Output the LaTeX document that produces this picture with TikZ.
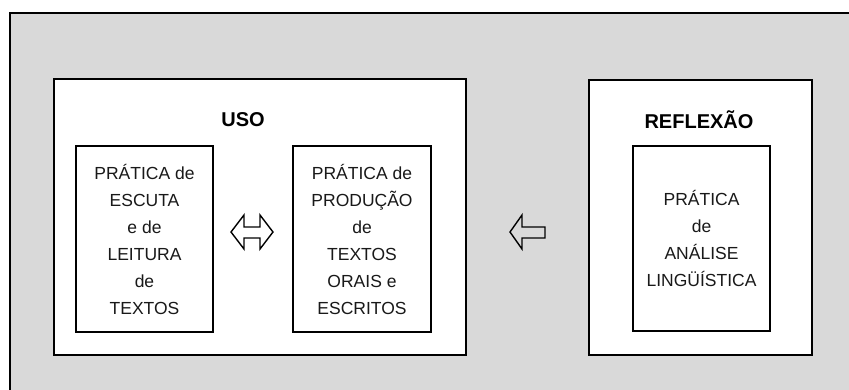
\documentclass[tikz,border=0pt]{standalone}
\usepackage{fontspec}
\setmainfont{Liberation Sans}
\definecolor{bggray}{HTML}{D9D9D9}
\begin{document}
\begin{tikzpicture}[x=1pt,y=-1pt,
  box/.style={draw=black,line width=2.5pt,fill=white,inner sep=0pt},
  txt/.style={align=center,text=black!90,font=\fontsize{17.5}{27}\selectfont},
  ttl/.style={font=\bfseries\fontsize{20}{22}\selectfont},
  blk/.style={draw=black,line width=1.4pt,line join=miter}]
\useasboundingbox (0,0) rectangle (849,389);
\clip (0,0) rectangle (849,389);
\fill[white] (0,0) rectangle (849,389);
\draw[fill=bggray,line width=2pt] (10,13) rectangle (880,420);
% USO
\node[box,minimum width=412,minimum height=276] (uso) at (260,217) {};
\node[ttl] (usot) at (243,120) {USO};
\node[box,txt,minimum width=137,minimum height=186] (esc) at (144.5,239)
  {PRÁTICA de\\ESCUTA\\e de\\LEITURA\\de\\TEXTOS};
\node[box,txt,minimum width=138,minimum height=186] (prod) at (362,239)
  {PRÁTICA de\\PRODUÇÃO\\de\\TEXTOS\\ORAIS e\\ESCRITOS};
% REFLEXAO
\node[box,minimum width=223,minimum height=275] (ref) at (700.5,217.5) {};
\node[ttl] (reft) at (699,120) {REFLEXÃO};
\node[box,txt,minimum width=137,minimum height=185] (ana) at (701.5,238.5)
  {PRÁTICA\\de\\ANÁLISE\\LINGÜÍSTICA};
% double arrow
\draw[blk] (231,232) -- (244,215) -- (244,227) -- (260,227) -- (260,215)
  -- (273,232) -- (260,249) -- (260,238) -- (244,238) -- (244,249) -- cycle;
% single arrow
\draw[blk] (510,232) -- (522,215) -- (522,227) -- (545,227) -- (545,238)
  -- (522,238) -- (522,249) -- cycle;
\end{tikzpicture}
\end{document}
